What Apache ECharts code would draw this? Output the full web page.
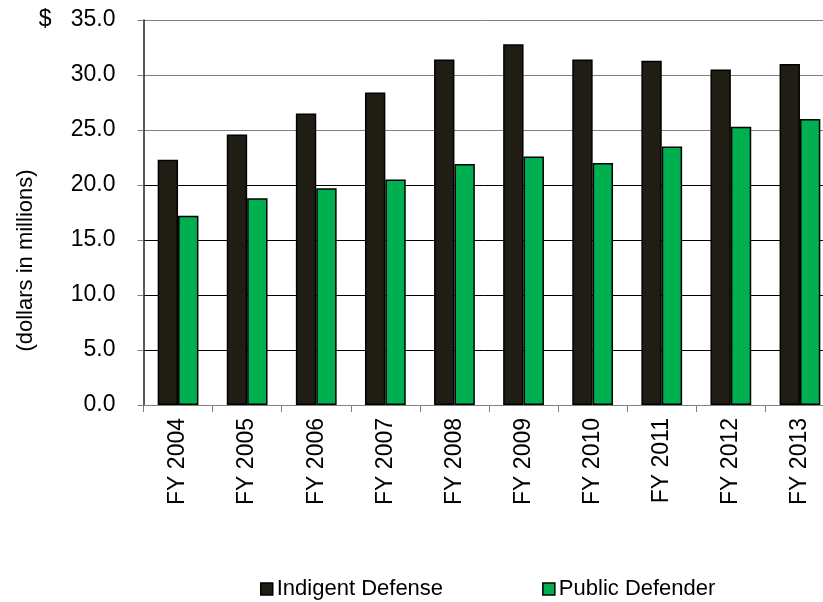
<!DOCTYPE html>
<html>
<head>
<meta charset="utf-8">
<script src="https://cdn.jsdelivr.net/npm/echarts@6/dist/echarts.min.js"></script>
<style>
html,body{margin:0;padding:0;background:#fff;}
#chart{width:823px;height:602px;}
</style>
</head>
<body>
<div id="chart"></div>
<script>
var categories = ['FY 2004','FY 2005','FY 2006','FY 2007','FY 2008','FY 2009','FY 2010','FY 2011','FY 2012','FY 2013'];
var indigentDefense = [22.3, 24.6, 26.5, 28.4, 31.4, 32.8, 31.4, 31.3, 30.5, 31.0];
var publicDefender = [17.2, 18.8, 19.7, 20.5, 21.9, 22.6, 22.0, 23.5, 25.3, 26.0];
var seriesNames = ['Indigent Defense', 'Public Defender'];
var yAxisTitle = '(dollars in millions)';

var chart = echarts.init(document.getElementById('chart'), null, {renderer: 'canvas'});
var font = '"Liberation Sans", Arial, sans-serif';
chart.setOption({
  animation: false,
  backgroundColor: '#fff',
  textStyle: {fontFamily: font},
  grid: {left: 143.5, top: 20, width: 691, bottom: 197, containLabel: false, outerBoundsMode: 'none'},
  legend: {
    left: 260, top: 578, padding: 0,
    itemWidth: 12, itemHeight: 12, itemGap: 99,
    textStyle: {fontSize: 22, color: '#000', fontFamily: font, padding: [0, 0, 0, -1]},
    data: [
      {name: seriesNames[0], icon: 'rect', itemStyle: {borderColor: '#000', borderWidth: 1.5}},
      {name: seriesNames[1], icon: 'rect', itemStyle: {borderColor: '#000', borderWidth: 1.5}}
    ]
  },
  xAxis: {
    type: 'category',
    data: categories,
    axisLine: {lineStyle: {color: '#808080', width: 1}},
    axisTick: {show: true, length: 7, lineStyle: {color: '#808080'}},
    axisLabel: {rotate: 90, margin: 13, fontSize: 23, color: '#000', fontFamily: font, interval: 0}
  },
  yAxis: {
    type: 'value',
    min: 0, max: 35, interval: 5,
    name: yAxisTitle,
    nameLocation: 'middle',
    nameGap: 107,
    nameMoveOverlap: false,
    nameRotate: 90,
    nameTextStyle: {fontSize: 22, color: '#000', fontFamily: font, padding: [0, 96, 0, 0]},
    axisLine: {show: true, lineStyle: {color: '#222', width: 1.5}},
    axisTick: {show: true, length: 6, lineStyle: {color: '#808080'}},
    axisLabel: {
      margin: 28, fontSize: 23, color: '#000', fontFamily: font,
      formatter: function (v) { return v === 35 ? '$   35.0' : v.toFixed(1); }
    },
    splitLine: {show: true, lineStyle: {color: ['#000','#000','#000','#000','#000','#808080','#808080','#808080'], width: 1}}
  },
  series: [
    {
      name: seriesNames[0], type: 'bar', data: indigentDefense,
      barGap: '0%', barCategoryGap: '41%',
      itemStyle: {color: '#201E14', borderColor: '#000', borderWidth: 1.5}
    },
    {
      name: seriesNames[1], type: 'bar', data: publicDefender,
      barGap: '0%', barCategoryGap: '41%',
      itemStyle: {color: '#00AF50', borderColor: '#000', borderWidth: 1.5}
    }
  ]
});
</script>
</body>
</html>
